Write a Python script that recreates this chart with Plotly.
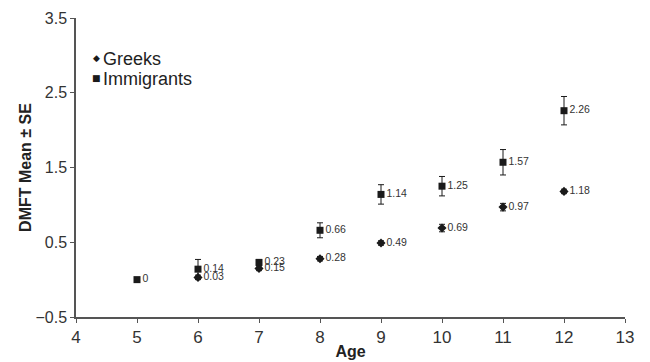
import plotly.graph_objects as go

ages = [5, 6, 7, 8, 9, 10, 11, 12]
greeks_mean = [None, 0.03, 0.15, 0.28, 0.49, 0.69, 0.97, 1.18]
greeks_se = [None, 0.03, 0.03, 0.03, 0.03, 0.05, 0.05, 0.03]
greeks_labels = ["", "0.03", "0.15", "0.28", "0.49", "0.69", "0.97", "1.18"]
immig_mean = [0, 0.14, 0.23, 0.66, 1.14, 1.25, 1.57, 2.26]
immig_se = [0, 0.13, 0.04, 0.1, 0.13, 0.13, 0.17, 0.19]
immig_labels = ["0", "0.14", "0.23", "0.66", "1.14", "1.25", "1.57", "2.26"]
x_ticks = [4, 5, 6, 7, 8, 9, 10, 11, 12, 13]
y_ticks = [-0.5, 0.5, 1.5, 2.5, 3.5]
legend_names = ["Greeks", "Immigrants"]
legend_symbols = ["◆", "■"]

ink = "#1a1a1a"
FONT = "Liberation Sans, Arial, sans-serif"
fig = go.Figure()
fig.add_trace(go.Scatter(
    x=ages, y=greeks_mean, name=legend_names[0], mode="markers+text",
    marker=dict(symbol="diamond", size=7, color=ink),
    error_y=dict(type="data", array=greeks_se, color=ink, thickness=1, width=3),
    text=greeks_labels, textposition="middle right",
    textfont=dict(family=FONT, size=10.5, color="#333"),
))
fig.add_trace(go.Scatter(
    x=ages, y=immig_mean, name=legend_names[1], mode="markers+text",
    marker=dict(symbol="square", size=7, color=ink),
    error_y=dict(type="data", array=immig_se, color=ink, thickness=1, width=3),
    text=immig_labels, textposition="middle right",
    textfont=dict(family=FONT, size=10.5, color="#333"),
))

# hand-made legend (symbol close to its label, as in the reference)
legend_y = [0.862, 0.797]
for sym, name, ly in zip(legend_symbols, legend_names, legend_y):
    fig.add_annotation(
        xref="paper", yref="paper", x=0.038, y=ly + 0.004,
        xanchor="center", yanchor="middle", showarrow=False,
        text=sym, font=dict(family="DejaVu Sans", size=9, color=ink),
    )
    fig.add_annotation(
        xref="paper", yref="paper", x=0.045, y=ly,
        xanchor="left", yanchor="middle", showarrow=False,
        text=name, font=dict(family=FONT, size=18, color="#222"),
    )

fig.update_layout(
    width=650, height=362,
    margin=dict(l=68, r=33, t=10, b=53),
    paper_bgcolor="white", plot_bgcolor="white",
    font=dict(family=FONT, size=16, color="#333"),
    showlegend=False,
    xaxis=dict(range=[4, 13], tickvals=x_ticks, showgrid=False, zeroline=False,
               automargin=False,
               showline=True, linecolor="#555", linewidth=1.5,
               ticks="outside", ticklen=4, tickcolor="#555",
               tickfont=dict(size=17),
               title=dict(text="<b>Age</b>", font=dict(size=16, color="#222"), standoff=0)),
    yaxis=dict(range=[-0.5, 3.5], tickvals=y_ticks, showgrid=False, zeroline=False,
               automargin=False,
               showline=True, linecolor="#555", linewidth=1.5,
               ticks="outside", ticklen=4, tickcolor="#555",
               tickfont=dict(size=16),
               title=dict(text="<b>DMFT Mean ± SE</b>", font=dict(size=16, color="#222"), standoff=0)),
)
fig.write_html("out.html")
